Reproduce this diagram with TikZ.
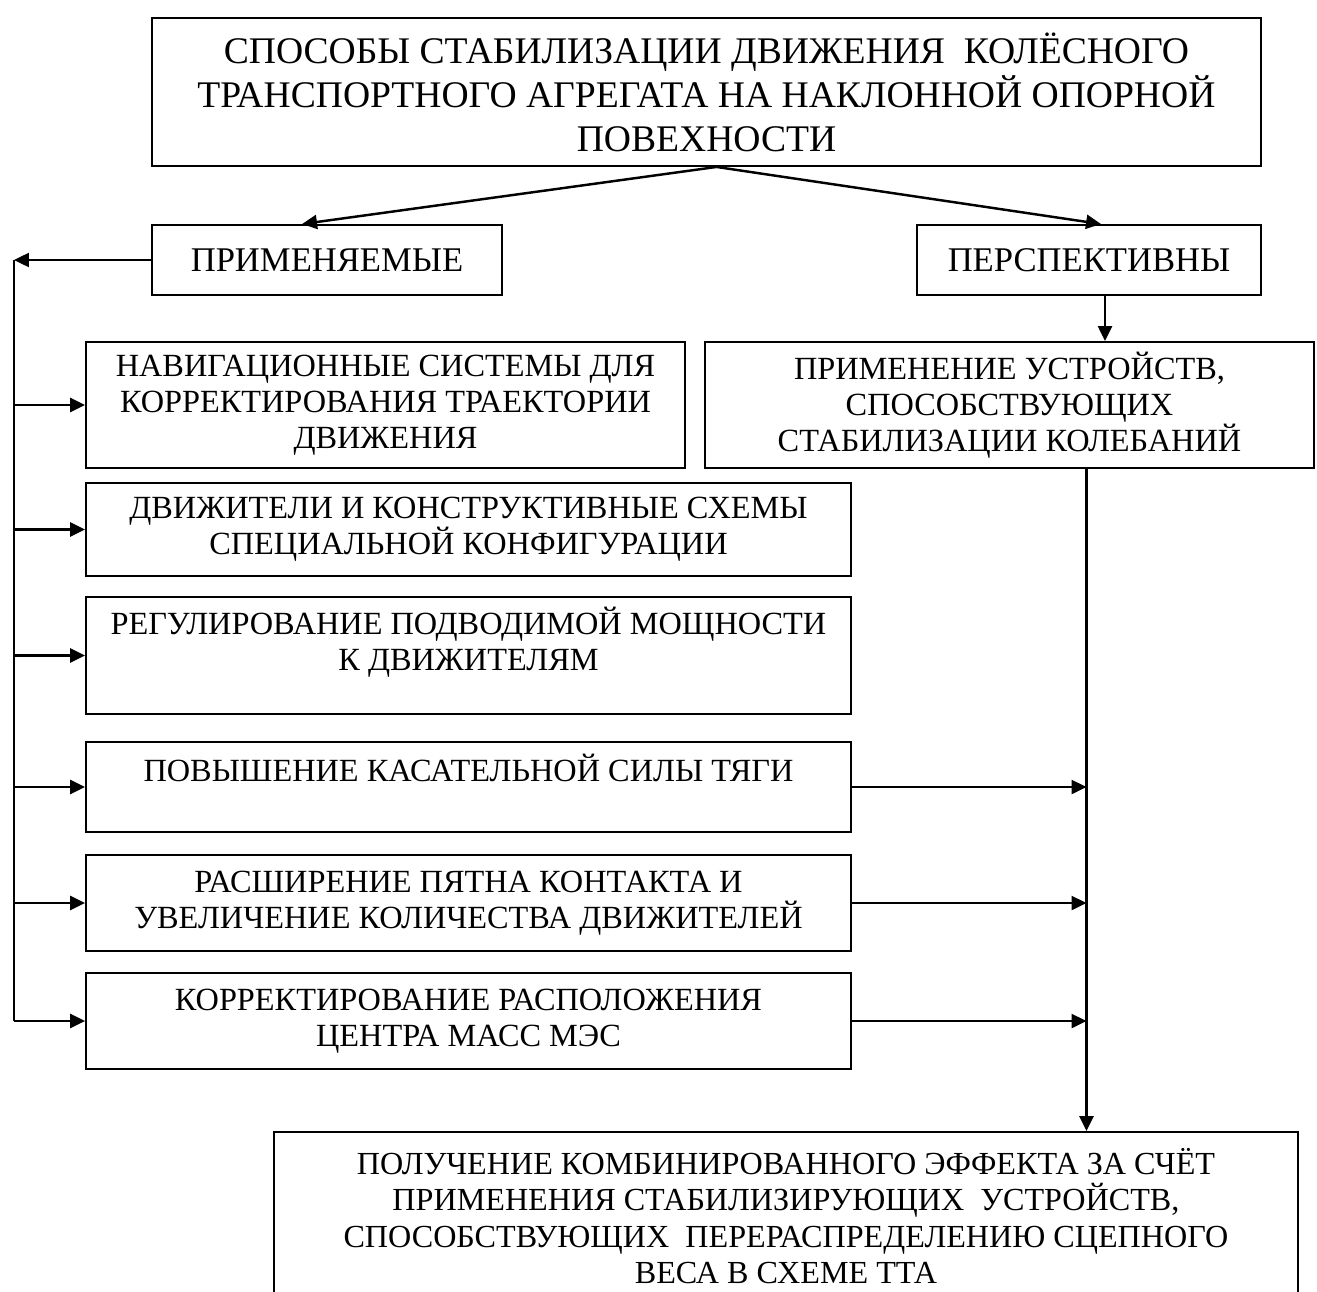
\documentclass[tikz,border=0pt]{standalone}
\usepackage{fontspec}
\setmainfont{Liberation Serif}
\usetikzlibrary{arrows.meta}

\begin{document}
\begin{tikzpicture}[x=0.02cm,y=-0.02cm,
    box/.style={draw,line width=1.1pt,align=center,inner sep=0pt,font=\fontsize{18.4}{20.5}\selectfont},
    arr/.style={line width=1.4pt,-{Triangle[length=0.3cm,width=0.28cm]}},
    link/.style={line width=1.4pt}]
    \useasboundingbox (0,0) rectangle (1317,1291);
    \clip (0,0) rectangle (1317,1291);

    % Title
    \node[box,minimum width=22.18cm,minimum height=2.96cm,font=\fontsize{21.4}{25}\selectfont] (top) at (706.5,92)
        {СПОСОБЫ СТАБИЛИЗАЦИИ ДВИЖЕНИЯ\ \ КОЛЁСНОГО\\ТРАНСПОРТНОГО АГРЕГАТА НА НАКЛОННОЙ ОПОРНОЙ\\ПОВЕХНОСТИ};

    % Two groups
    \node[box,minimum width=7cm,minimum height=1.4cm,font=\fontsize{19.7}{22}\selectfont] (prim) at (327,260) {ПРИМЕНЯЕМЫЕ};
    \node[box,minimum width=6.88cm,minimum height=1.4cm,font=\fontsize{19.7}{22}\selectfont] (persp) at (1089,260) {ПЕРСПЕКТИВНЫ};

    % Applied methods
    \node[box,minimum width=11.98cm,minimum height=2.52cm] (navig) at (385.5,405)
        {НАВИГАЦИОННЫЕ СИСТЕМЫ ДЛЯ\\КОРРЕКТИРОВАНИЯ ТРАЕКТОРИИ\\ДВИЖЕНИЯ};
    \node[box,minimum width=15.3cm,minimum height=1.86cm] (dvizh) at (468.5,529.5)
        {ДВИЖИТЕЛИ И КОНСТРУКТИВНЫЕ СХЕМЫ\\СПЕЦИАЛЬНОЙ КОНФИГУРАЦИИ};
    \node[box,minimum width=15.3cm,minimum height=2.34cm] (regul) at (468.5,655.5)
        {РЕГУЛИРОВАНИЕ ПОДВОДИМОЙ МОЩНОСТИ\\К ДВИЖИТЕЛЯМ\\[-0.28cm]\strut};
    \node[box,minimum width=15.3cm,minimum height=1.8cm] (povysh) at (468.5,787)
        {ПОВЫШЕНИЕ КАСАТЕЛЬНОЙ СИЛЫ ТЯГИ\\[-0.16cm]\strut};
    \node[box,minimum width=15.3cm,minimum height=1.92cm] (rassh) at (468.5,903)
        {РАСШИРЕНИЕ ПЯТНА КОНТАКТА И\\УВЕЛИЧЕНИЕ КОЛИЧЕСТВА ДВИЖИТЕЛЕЙ};
    \node[box,minimum width=15.3cm,minimum height=1.92cm] (korr) at (468.5,1021)
        {КОРРЕКТИРОВАНИЕ РАСПОЛОЖЕНИЯ\\ЦЕНТРА МАСС МЭС};

    % Prospective methods
    \node[box,minimum width=12.18cm,minimum height=2.52cm] (ustr) at (1009.5,405)
        {ПРИМЕНЕНИЕ УСТРОЙСТВ,\\СПОСОБСТВУЮЩИХ\\СТАБИЛИЗАЦИИ КОЛЕБАНИЙ};
    \node[box,minimum width=20.48cm,minimum height=3.36cm,font=\fontsize{18.3}{20.8}\selectfont] (itog) at (786,1216)
        {ПОЛУЧЕНИЕ КОМБИНИРОВАННОГО ЭФФЕКТА ЗА СЧЁТ\\ПРИМЕНЕНИЯ СТАБИЛИЗИРУЮЩИХ\ \ УСТРОЙСТВ,\\СПОСОБСТВУЮЩИХ\ \ ПЕРЕРАСПРЕДЕЛЕНИЮ СЦЕПНОГО\\ВЕСА В СХЕМЕ ТТА};

    % Connectors
    \draw[arr] ([xshift=0.2cm]top.south) -- ([xshift=3.02cm]prim.north west);
    \draw[arr] ([xshift=0.2cm]top.south) -- ([xshift=3.7cm]persp.north west);

    \coordinate (bus) at (14,260);
    \draw[arr] (prim.west) -- (bus);
    \draw[link] (bus) -- (bus |- korr.west);
    \foreach \n in {navig,dvizh,regul,povysh,rassh,korr}
        \draw[arr] (bus |- \n.west) -- (\n.west);

    \draw[arr] ([xshift=0.32cm]persp.south) -- ([xshift=0.32cm]persp.south |- ustr.north);
    \coordinate (rbus) at ([xshift=1.54cm]ustr.south);
    \draw[arr] (rbus) -- (rbus |- itog.north);
    \foreach \n in {povysh,rassh,korr}
        \draw[arr] (\n.east) -- (\n.east -| rbus);
\end{tikzpicture}
\end{document}
